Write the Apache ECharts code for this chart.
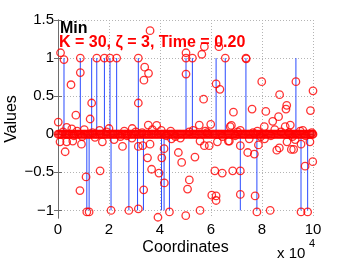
<!DOCTYPE html>
<html>
<head>
<meta charset="utf-8">
<script src="https://cdn.jsdelivr.net/npm/echarts@6/dist/echarts.min.js"></script>
<style>html,body{margin:0;padding:0;background:#fff}#c{width:346px;height:260px}</style>
</head>
<body>
<div id="c"></div>
<script>
// ---- data (coordinates in units of 10^4) ----
const xTicks = [0, 2, 4, 6, 8, 10];
const yTicks = [-1, -0.5, 0, 0.5, 1, 1.5];

// true signal: stem positions and values
const stemX = [0.235, 0.875, 1.32, 1.52, 1.82, 2.04, 2.30, 3.15, 5.02, 5.27, 6.20, 6.56, 7.37, 9.33,
               1.13, 1.22, 2.08, 2.78, 3.12, 3.35, 4.06, 4.16, 4.37, 7.15, 7.80, 9.53, 9.79];
const stemV = [1, 1, 1, 1, 1, 1, 1, 1, 1, 1, 1, 1, 1, 1,
               -1, -1, -1, -1, -1, -1, -1, -1, -1, -1, -1, -1, -1];

// recovered values clearly away from zero
const recX = [0.10, 0.235, 0.51, 0.01, 0.70, 0.875, 0.875, 1.32, 1.26, 1.52, 1.82, 2.04, 2.30, 3.15, 3.15,
              3.40, 3.37, 3.55, 3.61, 5.02, 5.02, 5.02, 5.27, 5.64, 5.74, 6.31, 5.71, 6.20, 6.35, 6.56,
              7.37, 7.38, 7.99, 8.69, 8.97, 8.94, 7.61, 8.15, 6.88, 10.0, 9.90, 9.33, 6.80, 8.42, 8.65,
              9.11, 8.91, 8.09,
              0.28, 1.10, 0.86, 1.65, 2.53, 3.15, 3.36, 3.32, 0.92, 1.13, 1.22, 2.08, 2.78, 3.15, 3.61,
              3.51, 3.67, 3.96, 4.07, 4.16, 4.17, 4.37, 3.92, 4.72, 4.85, 5.37, 5.15, 5.08, 5.01, 5.57,
              6.15, 6.44, 6.03, 6.20, 6.20, 5.74, 5.93, 7.15, 6.85, 7.15, 7.15, 7.73, 7.80, 7.86, 7.44,
              7.70, 8.32, 8.58, 8.68, 9.15, 9.24, 9.53, 9.79, 9.69, 9.99, 9.53];
const recY = [1.07, 0.98, 0.65, 0.16, 0.25, 0.81, 1.0, 0.41, 0.20, 1.0, 1.0, 1.0, 1.0, 1.0, 0.41,
              0.88, 0.71, 0.80, 1.36, 1.07, 1.0, 0.79, 1.0, 1.05, 1.15, 1.15, 0.46, 0.66, 0.59, 1.0,
              1.0, 0.99, 0.69, 0.52, 0.38, 0.33, 0.33, 0.30, 0.29, 0.57, 0.31, 0.69, 0.115, 0.17, 0.23,
              0.12, 0.10, 0.10,
              -0.23, -0.56, -0.74, -0.48, -0.16, -0.16, -0.73, -0.15, -0.13, -1.02, -1.02, -1.0, -1.0, -0.98, -0.13,
              -0.31, -0.46, -0.51, -0.31, -0.19, -0.64, -1.02, -1.09, -0.24, -0.37, -0.30, -0.60, -0.72, -1.07, -1.0,
              -0.48, -0.51, -0.80, -0.81, -0.87, -0.15, -0.15, -0.15, -0.48, -0.48, -0.79, -0.81, -1.02, -0.14, -0.24,
              -0.26, -1.0, -0.21, -0.18, -0.20, -0.20, -1.02, -1.02, -0.42, -0.36, -0.13];

// recovered values close to zero
const nearX = [0.34, 0.54, 0.75, 1.03, 2.00, 2.91, 3.87, 3.54, 5.54, 5.99, 6.75, 3.70, 4.05, 4.42, 1.63,
               2.60, 5.30, 5.78, 7.15, 7.82, 8.50, 9.50, 9.60, 0.08, 0.34, 0.58, 1.74, 2.20, 5.57, 6.25,
               6.68, 9.88, 6.72, 8.98, 7.50, 8.10, 9.30, 4.45, 4.80, 2.90, 1.45, 0.20, 0.95, 1.90, 2.45,
               3.05, 4.60, 5.15, 6.45, 7.05, 7.95, 8.75, 9.20, 9.95, 0.62, 1.35, 2.70, 3.30, 4.25, 5.85,
               6.95, 7.65, 8.35, 9.05, 9.70];
const nearY = [0.09, 0.07, 0.04, 0.06, 0.075, 0.075, 0.115, 0.12, 0.12, 0.13, 0.10, 0.06, 0.05, 0.04, 0.05,
               0.04, 0.05, 0.04, 0.05, 0.04, 0.06, 0.04, 0.05, -0.10, -0.10, -0.09, -0.10, -0.07, -0.09, -0.10,
               -0.09, -0.10, -0.09, -0.10, -0.06, -0.06, -0.07, -0.06, -0.05, -0.05, -0.04, 0.03, -0.03, 0.03, -0.03,
               0.03, -0.03, 0.03, -0.03, 0.03, -0.03, 0.03, -0.03, 0.02, -0.02, 0.02, -0.02, 0.02, -0.02, 0.02,
               -0.02, 0.02, -0.02, 0.02, -0.02];

// the dense band of recovered values sitting at zero
const zeroX = [0.00,0.04,0.09,0.13,0.16,0.22,0.27,0.31,0.35,0.41,0.44,0.49,0.55,0.58,0.63,0.67,0.72,0.78,0.81,0.86,
  0.90,0.95,1.01,1.04,1.09,1.15,1.18,1.24,1.27,1.32,1.37,1.41,1.47,1.50,1.55,1.61,1.64,1.69,1.73,1.79,
  1.83,1.88,1.92,1.97,2.03,2.06,2.11,2.16,2.20,2.25,2.29,2.35,2.38,2.43,2.49,2.52,2.57,2.62,2.66,2.71,
  2.75,2.80,2.86,2.89,2.94,2.99,3.03,3.08,3.12,3.17,3.22,3.26,3.31,3.36,3.40,3.45,3.49,3.54,3.58,3.64,
  3.68,3.72,3.77,3.82,3.86,3.91,3.95,4.01,4.04,4.09,4.14,4.18,4.23,4.27,4.33,4.36,4.41,4.46,4.50,4.55,
  4.59,4.64,4.69,4.73,4.78,4.82,4.87,4.92,4.96,5.01,5.05,5.10,5.15,5.19,5.24,5.28,5.33,5.38,5.42,5.47,
  5.51,5.56,5.61,5.65,5.70,5.74,5.79,5.84,5.88,5.93,5.97,6.02,6.07,6.11,6.16,6.20,6.25,6.30,6.34,6.39,
  6.43,6.48,6.53,6.57,6.62,6.66,6.71,6.76,6.80,6.85,6.89,6.94,6.99,7.03,7.08,7.12,7.17,7.22,7.26,7.31,
  7.35,7.40,7.45,7.49,7.54,7.58,7.63,7.68,7.72,7.77,7.81,7.86,7.91,7.95,8.00,8.04,8.09,8.14,8.18,8.23,
  8.27,8.32,8.37,8.41,8.46,8.50,8.55,8.60,8.64,8.69,8.73,8.78,8.83,8.87,8.92,8.96,9.01,9.06,9.10,9.15,
  9.19,9.24,9.29,9.33,9.38,9.42,9.47,9.52,9.56,9.61,9.65,9.70,9.75,9.79,9.84,9.88,9.93,9.98,10.00];

// ---- chart ----
const chart = echarts.init(document.getElementById('c'), null, {renderer: 'canvas'});
const FONT = '"Liberation Sans", Arial, Helvetica, sans-serif';
const axisCol = '#6e6e6e';
const gridLine = {show: true, lineStyle: {color: '#b4b4b4', type: [1, 2], width: 1}};
const fmtY = v => (v < 0 ? '\u2212' + String(Math.abs(v)) : String(v));

const stemData = stemX.map((x, i) => [x, stemV[i]]);
const recData = recX.map((x, i) => [x, recY[i]])
  .concat(nearX.map((x, i) => [x, nearY[i]]))
  .concat(zeroX.map(x => [x, 0]));

chart.setOption({
  animation: false,
  backgroundColor: '#fff',
  grid: {left: 58, right: 33, top: 20, bottom: 42, containLabel: false, outerBoundsMode: 'none'},
  xAxis: [{
    type: 'value', min: 0, max: 10, interval: 2, position: 'bottom',
    axisLine: {show: true, lineStyle: {color: axisCol, width: 1}},
    axisTick: {show: true, inside: true, length: 4, lineStyle: {color: axisCol}},
    axisLabel: {color: '#000', fontSize: 15, fontFamily: FONT, margin: 4},
    splitLine: gridLine,
    name: 'Coordinates', nameLocation: 'middle', nameGap: 22, nameMoveOverlap: false,
    nameTextStyle: {color: '#000', fontSize: 16, fontFamily: FONT}
  }, {
    type: 'value', min: 0, max: 10, interval: 2, position: 'top',
    axisLine: {show: true, lineStyle: {color: axisCol, width: 1}},
    axisTick: {show: true, inside: true, length: 4, lineStyle: {color: axisCol}},
    axisLabel: {show: false}, splitLine: {show: false}
  }],
  yAxis: [{
    type: 'value', min: -1.1, max: 1.5, position: 'left',
    axisLine: {show: true, lineStyle: {color: axisCol, width: 1}},
    axisTick: {show: true, inside: true, length: 4, lineStyle: {color: axisCol}, customValues: yTicks},
    axisLabel: {color: '#000', fontSize: 15, fontFamily: FONT, margin: 4, customValues: yTicks, formatter: fmtY},
    splitLine: gridLine,
    name: 'Values', nameLocation: 'middle', nameGap: 38, nameMoveOverlap: false,
    nameTextStyle: {color: '#000', fontSize: 16, fontFamily: FONT}
  }, {
    type: 'value', min: -1.1, max: 1.5, position: 'right',
    axisLine: {show: true, lineStyle: {color: axisCol, width: 1}},
    axisTick: {show: true, inside: true, length: 4, lineStyle: {color: axisCol}, customValues: yTicks},
    axisLabel: {show: false, customValues: yTicks}, splitLine: {show: false}
  }],
  series: [{
    type: 'custom',
    xAxisIndex: 0, yAxisIndex: 0,
    data: stemData,
    z: 2,
    itemStyle: {color: '#2a4bff'},
    renderItem: function (params, api) {
      const p0 = api.coord([api.value(0), 0]);
      const p1 = api.coord([api.value(0), api.value(1)]);
      return {type: 'line', shape: {x1: p0[0], y1: p0[1], x2: p1[0], y2: p1[1]},
              style: {stroke: '#2a4bff', fill: null, lineWidth: 1}};
    }
  }, {
    type: 'scatter',
    xAxisIndex: 0, yAxisIndex: 0,
    data: recData,
    symbol: 'circle', symbolSize: 7.5,
    itemStyle: {color: 'rgba(0,0,0,0)', borderColor: '#ff0000', borderWidth: 1.3},
    z: 3,
    emphasis: {disabled: true}
  }],
  graphic: [
    {type: 'text', left: 60, top: 21, z: 10,
     style: {text: 'Min', font: 'bold 16px ' + FONT, fill: '#000'}},
    {type: 'text', left: 59, top: 35, z: 1,
     style: {text: 'K = 30, \u03b6 = 3, Time = 0.20', font: 'bold 16px ' + FONT, fill: '#ff0000'}},
    {type: 'text', left: 277, top: 246,
     style: {text: 'x 10', font: '15px ' + FONT, fill: '#000'}},
    {type: 'text', left: 309, top: 238,
     style: {text: '4', font: '11px ' + FONT, fill: '#000'}}
  ]
});
</script>
</body>
</html>
